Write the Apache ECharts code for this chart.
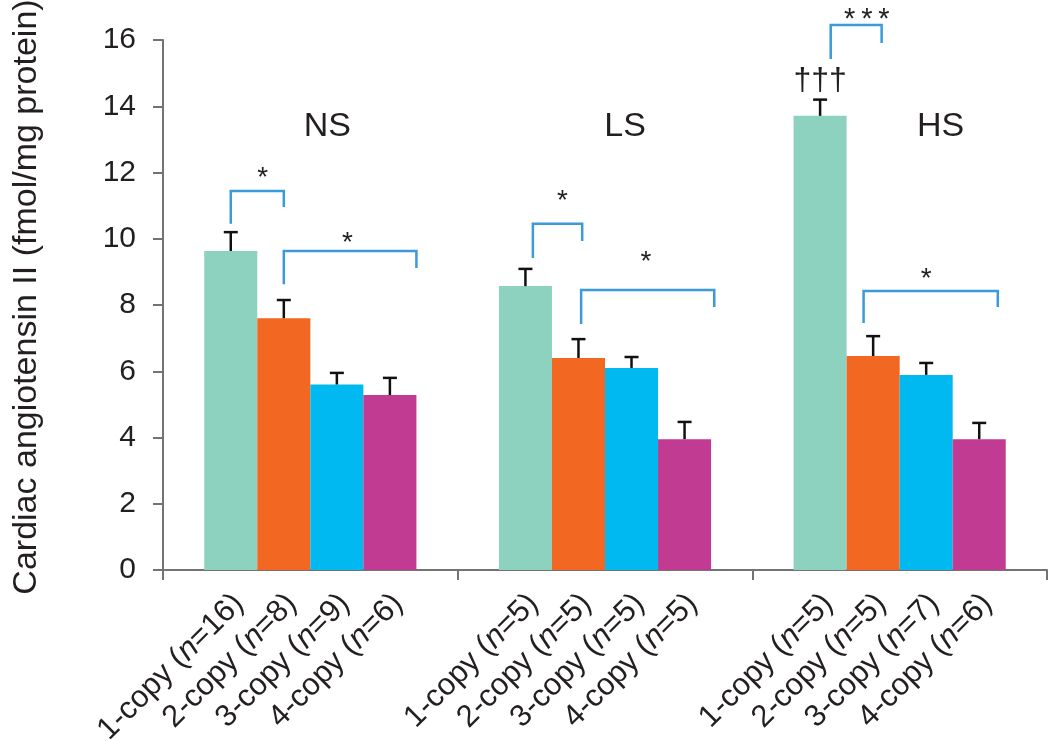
<!DOCTYPE html>
<html>
<head>
<meta charset="utf-8">
<script src="https://cdn.jsdelivr.net/npm/echarts@6/dist/echarts.min.js"></script>
<style>
html, body { margin: 0; padding: 0; background: #fff; }
#container { width: 1050px; height: 741px; }
</style>
</head>
<body>
<div id="container"></div>
<script>
var groups = ['NS', 'LS', 'HS'];
var copies = ['1-copy', '2-copy', '3-copy', '4-copy'];
var yTicks = [0, 2, 4, 6, 8, 10, 12, 14, 16];

// mean value for each copy number, in NS / LS / HS order
var copy1 = [9.63, 8.57, 13.71];
var copy2 = [7.60, 6.40, 6.46];
var copy3 = [5.60, 6.10, 5.89];
var copy4 = [5.28, 3.95, 3.95];

// top of the error bar
var copy1Top = [10.20, 9.09, 14.20];
var copy2Top = [8.15, 6.97, 7.06];
var copy3Top = [5.95, 6.43, 6.25];
var copy4Top = [5.80, 4.47, 4.44];

// animals per group
var copy1N = [16, 5, 5];
var copy2N = [8, 5, 5];
var copy3N = [9, 5, 7];
var copy4N = [6, 5, 6];

// significance brackets (x in bar slots, 0 = first bar of the group)
var bracketGroup = [0, 0, 1, 1, 2, 2];
var bracketFrom  = [0, 1, 0.14, 1.05, 0.2, 0.82];
var bracketTo    = [1, 3.5, 1.07, 3.56, 1.16, 3.35];
var bracketTop   = [11.44, 9.63, 10.45, 8.45, 16.45, 8.42];
var bracketLeft  = [10.45, 8.63, 9.42, 7.43, 15.43, 7.46];
var bracketRight = [10.96, 9.12, 9.93, 7.94, 15.91, 7.94];
var starText = ['*', '*', '*', '*', '*\u2009*\u2009*', '*'];
var starPos  = [0.6, 2.2, 0.7, 2.27, 0.88, 2.0];
var starY    = [12.0, 10.05, 11.32, 9.48, 16.8, 8.97];

// group titles and the dagger mark
var titlePos = [1.82, 1.88, 2.27];
var titleY = [13.4, 13.4, 13.4];
var daggerGroup = 2, daggerPos = 0, daggerY = 14.75;

var colors = ['#8dd1bf', '#f26722', '#00b9f0', '#c13b92'];
var FONT = '"Liberation Sans", Arial, Helvetica, sans-serif';
var BAR_FRAC = 0.18;
var ink = '#231f20';
var bracketColor = '#3b9ad9';

var means = [copy1, copy2, copy3, copy4];
var tops = [copy1Top, copy2Top, copy3Top, copy4Top];
var counts = [copy1N, copy2N, copy3N, copy4N];

function slotX(api, g, p, v) {
    var c = api.coord([g, v]);
    var bw = api.size([1, 0])[0] * BAR_FRAC;
    return [c[0] + (p - 1.5) * bw, c[1]];
}

var errData = [];
var tickData = [];
for (var c = 0; c < 4; c++) {
    for (var g = 0; g < 3; g++) {
        errData.push([g, c, means[c][g], tops[c][g]]);
        tickData.push([g, c, 0]);
    }
}
var bracketData = bracketGroup.map(function (g, i) { return [g, bracketTop[i]]; });
var titleData = groups.map(function (n, g) { return [g, titleY[g]]; });

var dom = document.getElementById('container');
var myChart = echarts.init(dom);

var series = copies.map(function (name, c) {
    return {
        name: name,
        type: 'bar',
        data: means[c],
        barWidth: '18%',
        barGap: '0%',
        itemStyle: { color: colors[c] },
        animation: false
    };
});

// error bars
series.push({
    type: 'custom',
    data: errData,
    encode: { x: 0, y: 3 },
    z: 5,
    animation: false,
    renderItem: function (params, api) {
        var g = api.value(0), c = api.value(1);
        var b = slotX(api, g, c, api.value(2));
        var t = slotX(api, g, c, api.value(3));
        var st = { stroke: '#111', lineWidth: 2.5 };
        return {
            type: 'group',
            children: [
                { type: 'line', shape: { x1: b[0], y1: b[1], x2: t[0], y2: t[1] }, style: st },
                { type: 'line', shape: { x1: t[0] - 7, y1: t[1], x2: t[0] + 7, y2: t[1] }, style: st }
            ]
        };
    }
});

// per-bar tick labels below the axis
series.push({
    type: 'custom',
    data: tickData,
    encode: { x: 0, y: 2 },
    clip: false,
    animation: false,
    renderItem: function (params, api) {
        var g = api.value(0), c = api.value(1);
        var p = slotX(api, g, c, 0);
        return {
            type: 'text',
            x: p[0] + 8,
            y: p[1] + 29,
            rotation: Math.PI / 4,
            style: {
                text: copies[c] + ' ({i|n}=' + counts[c][g] + ')',
                fontSize: 31,
                fontFamily: FONT,
                fill: ink,
                align: 'right',
                verticalAlign: 'middle',
                rich: { i: { fontStyle: 'italic', fontSize: 31, fontFamily: FONT, fill: ink } }
            }
        };
    }
});

// significance brackets and stars
series.push({
    type: 'custom',
    data: bracketData,
    encode: { x: 0, y: 1 },
    clip: false,
    z: 6,
    animation: false,
    renderItem: function (params, api) {
        var i = params.dataIndex;
        var g = bracketGroup[i];
        var a = slotX(api, g, bracketFrom[i], bracketLeft[i]);
        var at = slotX(api, g, bracketFrom[i], bracketTop[i]);
        var b = slotX(api, g, bracketTo[i], bracketRight[i]);
        var bt = slotX(api, g, bracketTo[i], bracketTop[i]);
        var s = slotX(api, g, starPos[i], starY[i]);
        var fs = starText[i].length > 1 ? 29 : 28;
        return {
            type: 'group',
            children: [
                {
                    type: 'polyline',
                    shape: { points: [a, at, bt, b] },
                    style: { stroke: bracketColor, lineWidth: 2.5, fill: null }
                },
                {
                    type: 'text',
                    x: s[0],
                    y: s[1] + fs * 0.22,
                    style: {
                        text: starText[i],
                        fontSize: fs,
                        fontFamily: FONT,
                        fill: ink,
                        align: 'center',
                        verticalAlign: 'middle'
                    }
                }
            ]
        };
    }
});

// group titles and daggers
series.push({
    type: 'custom',
    data: titleData,
    encode: { x: 0, y: 1 },
    clip: false,
    animation: false,
    renderItem: function (params, api) {
        var g = params.dataIndex;
        var t = slotX(api, g, titlePos[g], titleY[g]);
        var children = [{
            type: 'text',
            x: t[0],
            y: t[1],
            style: {
                text: groups[g],
                fontSize: 34,
                fontFamily: FONT,
                fill: ink,
                align: 'center',
                verticalAlign: 'middle'
            }
        }];
        if (g === daggerGroup) {
            var d = slotX(api, g, daggerPos, daggerY);
            children.push({
                type: 'text',
                x: d[0],
                y: d[1],
                style: {
                    text: '\u2020\u2020\u2020',
                    fontSize: 32,
                    fontFamily: FONT,
                    fill: ink,
                    align: 'center',
                    verticalAlign: 'middle'
                }
            });
        }
        return { type: 'group', children: children };
    }
});

option = {
    backgroundColor: '#fff',
    animation: false,
    grid: { left: 163, right: 3, top: 40, bottom: 171, containLabel: false, outerBoundsMode: 'none' },
    xAxis: {
        type: 'category',
        data: groups,
        axisLine: { lineStyle: { color: '#737373', width: 2 } },
        axisTick: { show: true, inside: false, length: 10, lineStyle: { color: '#737373', width: 2 } },
        axisLabel: { show: false },
        splitLine: { show: false }
    },
    yAxis: {
        type: 'value',
        min: yTicks[0],
        max: yTicks[yTicks.length - 1],
        interval: 2,
        name: 'Cardiac angiotensin II (fmol/mg protein)',
        nameLocation: 'middle',
        nameGap: 119,
        nameTextStyle: { fontSize: 34, fontFamily: FONT, color: ink, padding: [0, 0, 0, 16] },
        axisLine: { show: true, lineStyle: { color: '#737373', width: 2 } },
        axisTick: { show: true, inside: false, length: 10, lineStyle: { color: '#737373', width: 2 } },
        axisLabel: { fontSize: 30, fontFamily: FONT, color: ink, margin: 27 },
        splitLine: { show: false }
    },
    series: series
};

if (option && typeof option === 'object') {
    myChart.setOption(option, true);
}
</script>
</body>
</html>
